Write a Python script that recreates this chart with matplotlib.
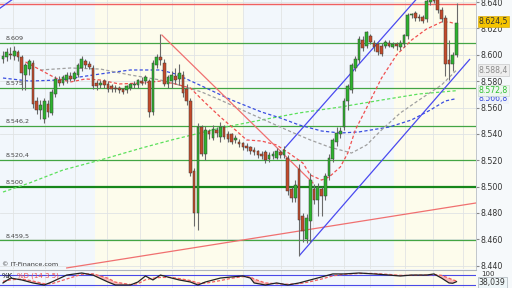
import matplotlib
matplotlib.use('Agg')
import matplotlib.pyplot as plt

# ---- candles (index level), one per bar ----
opens = [8597, 8598, 8601, 8599, 8602, 8598, 8585, 8589, 8594, 8565,
         8558, 8551, 8563, 8556, 8570, 8581, 8579, 8581, 8584, 8582,
         8585, 8590, 8595, 8593, 8590, 8579, 8577, 8580, 8578, 8576,
         8575, 8575, 8574, 8573, 8575, 8577, 8577, 8580, 8580, 8580,
         8557, 8592, 8598, 8594, 8578, 8580, 8584, 8582, 8585, 8574,
         8565, 8512, 8480, 8545, 8525, 8542, 8537, 8543, 8538, 8545,
         8540, 8540, 8535, 8534, 8533, 8531, 8530, 8528, 8527, 8525,
         8526, 8521, 8523, 8522, 8526, 8524, 8522, 8498, 8491, 8513,
         8478, 8460, 8474, 8498, 8490, 8498, 8493, 8508, 8521, 8534,
         8540, 8545, 8565, 8573, 8590, 8596, 8611, 8607, 8614, 8609,
         8608, 8607, 8607, 8609, 8606, 8608, 8606, 8608, 8614, 8630,
         8632, 8629, 8629, 8627, 8640, 8645, 8642, 8634, 8628, 8596,
         8593, 8600]
highs = [8603, 8605, 8606, 8607, 8604, 8600, 8594, 8597, 8596, 8568,
         8566, 8567, 8566, 8574, 8584, 8584, 8585, 8587, 8587, 8588,
         8594, 8599, 8597, 8595, 8592, 8581, 8581, 8582, 8580, 8578,
         8577, 8576, 8575, 8577, 8579, 8580, 8582, 8583, 8585, 8582,
         8596, 8601, 8616, 8597, 8585, 8588, 8590, 8593, 8588, 8578,
         8567, 8514, 8548, 8547, 8546, 8544, 8547, 8545, 8549, 8547,
         8542, 8541, 8539, 8536, 8534, 8533, 8531, 8530, 8528, 8527,
         8528, 8526, 8527, 8529, 8528, 8531, 8524, 8500, 8505, 8517,
         8480, 8479, 8510, 8502, 8503, 8500, 8510, 8525, 8537, 8545,
         8545, 8567, 8578, 8594, 8599, 8614, 8614, 8618, 8616, 8611,
         8610, 8609, 8611, 8611, 8610, 8610, 8611, 8616, 8632, 8632,
         8633, 8631, 8630, 8643, 8645, 8646, 8643, 8636, 8630, 8611,
         8602, 8639]
lows = [8594, 8595, 8597, 8596, 8595, 8573, 8573, 8585, 8560, 8555,
        8551, 8548, 8553, 8554, 8568, 8576, 8577, 8579, 8580, 8580,
        8583, 8588, 8590, 8589, 8574, 8573, 8575, 8575, 8572, 8572,
        8572, 8571, 8570, 8571, 8573, 8575, 8575, 8577, 8578, 8553,
        8554, 8590, 8592, 8576, 8575, 8575, 8578, 8577, 8568, 8562,
        8508, 8470, 8467, 8523, 8520, 8536, 8535, 8538, 8534, 8536,
        8534, 8532, 8533, 8530, 8528, 8527, 8525, 8524, 8522, 8521,
        8518, 8519, 8521, 8521, 8522, 8522, 8494, 8488, 8488, 8447,
        8458, 8457, 8458, 8487, 8478, 8478, 8490, 8505, 8519, 8531,
        8537, 8543, 8558, 8571, 8588, 8594, 8603, 8605, 8608, 8603,
        8600, 8599, 8605, 8606, 8605, 8604, 8604, 8606, 8612, 8628,
        8626, 8626, 8624, 8625, 8638, 8639, 8632, 8625, 8584, 8581,
        8588, 8598]
closes = [8599, 8602, 8600, 8603, 8598, 8586, 8592, 8595, 8563, 8558,
          8562, 8565, 8557, 8572, 8582, 8579, 8583, 8585, 8582, 8586,
          8592, 8597, 8592, 8591, 8576, 8576, 8579, 8577, 8574, 8574,
          8574, 8573, 8572, 8576, 8578, 8578, 8581, 8579, 8583, 8557,
          8594, 8598, 8596, 8578, 8583, 8585, 8581, 8586, 8571, 8565,
          8510, 8480, 8545, 8525, 8543, 8540, 8544, 8541, 8545, 8538,
          8536, 8534, 8537, 8532, 8530, 8529, 8527, 8526, 8524, 8523,
          8520, 8524, 8525, 8527, 8524, 8528, 8497, 8491, 8501, 8475,
          8466, 8476, 8505, 8490, 8500, 8493, 8508, 8522, 8535, 8541,
          8542, 8565, 8576, 8592, 8597, 8612, 8605, 8617, 8610, 8606,
          8602, 8601, 8610, 8607, 8608, 8607, 8609, 8615, 8630, 8631,
          8628, 8628, 8626, 8641, 8642, 8641, 8634, 8627, 8593, 8593,
          8600, 8624.5]

# ---- moving averages, read at sample bars ----
ma_red_idx = [6, 10, 14, 18, 22, 26, 31, 37, 42, 46, 50, 54, 58, 62, 65, 69, 73,
              77, 80, 82, 85, 87, 90, 92, 94, 97, 101, 105, 109, 113, 117, 119, 121]
ma_red = [8594.6, 8588.5, 8582.4, 8579.4, 8581.7, 8580.9, 8577.9, 8578.6, 8580.1,
          8577.9, 8574.8, 8563.5, 8552.8, 8543.0, 8535.4, 8534.6, 8531.6, 8524.0,
          8517.9, 8508.8, 8505.0, 8507.3, 8514.9, 8525.5, 8543.0, 8559.7, 8582.4,
          8599.9, 8611.2, 8619.6, 8624.9, 8624.9, 8623.4]
ma_gray_idx = [10, 18, 26, 34, 42, 46, 53, 58, 65, 71, 77, 82, 87, 93, 97, 101,
               106, 111, 117, 121]
ma_gray = [8588.5, 8590.0, 8589.2, 8584.7, 8580.9, 8577.9, 8571.8, 8565.7, 8556.6,
           8549.0, 8541.4, 8535.4, 8530.1, 8525.5, 8531.6, 8543.0, 8555.9, 8565.7,
           8577.1, 8588.4]
ma_blue_idx = [0, 7, 15, 26, 34, 42, 46, 53, 61, 69, 74, 79, 85, 90, 95, 103,
               109, 114, 118, 121]
ma_blue = [8582.4, 8580.1, 8580.9, 8585.5, 8588.5, 8588.5, 8585.5, 8576.4, 8565.7,
           8556.6, 8552.1, 8546.8, 8542.2, 8540.7, 8541.5, 8545.2, 8550.6, 8558.1,
           8565.0, 8566.8]
ma_green_idx = [0, 7, 16, 26, 37, 45, 58, 69, 79, 90, 101, 111, 121]
ma_green = [8495.9, 8502.7, 8512.6, 8520.2, 8529.3, 8535.4, 8544.5, 8550.6, 8555.9,
            8560.4, 8565.7, 8570.3, 8572.8]

# ---- drawn lines ----
levels = [8609, 8575, 8546.2, 8520.4, 8500, 8459.5]
level_labels = ['8.609', '8.575', '8.546,2', '8.520,4', '8.500', '8.459,5']
resistance = 8638.5
red_down_x, red_down_y = [42.4, 82.7], [8615.0, 8502.8]
red_up_x, red_up_y = [17, 126.2], [8438.3, 8487.6]
chan_low_x, chan_low_y = [79.2, 124.5], [8448.1, 8596.5]
chan_up_x, chan_up_y = [75.2, 112], [8529.3, 8647.7]
old_line_x, old_line_y = [-1, 3], [8635.0, 8643.0]

# ---- stochastic (14 3 5) ----
stoch_idx = [0, 2, 5, 8, 11, 13, 17, 21, 24, 28, 30, 34, 36, 38, 40, 42, 45, 47,
             50, 52, 54, 58, 61, 64, 66, 67, 70, 73, 76, 79, 82, 85, 88, 91, 95,
             99, 103, 106, 109, 113, 115, 117, 119, 120, 121]
stoch_k = [30, 61, 49, 30, 17, 36, 80, 93, 80, 36, 17, 17, 36, 74, 49, 80, 61, 49,
           36, 17, 36, 61, 68, 74, 61, 30, 17, 30, 17, 30, 49, 68, 87, 87, 93,
           87, 80, 74, 80, 80, 87, 61, 30, 28, 38.039]
stoch_d = [40, 50, 55, 42, 25, 25, 55, 85, 88, 60, 35, 20, 25, 50, 60, 65, 65, 58,
           45, 30, 28, 45, 60, 70, 68, 55, 30, 25, 22, 25, 38, 55, 75, 85, 90,
           90, 84, 78, 78, 80, 83, 78, 60, 50, 42]

yticks = list(range(8440, 8641, 20))
bands = [(-0.8, 24.5, '#f2f7fc'), (24.5, 64, '#fdfcec'),
         (64, 104.3, '#f2f7fc'), (104.3, 126.2, '#fdfcec')]
vgrid = [2.7, 11.2, 19.2, 27.7, 36.5, 45.1, 50.9, 59.7, 64, 74.1, 82.7, 90.9,
         97.9, 107.2, 114.7, 122.7]


def eu(v, d):
    s = f'{v:,.{d}f}'
    return s.replace(',', 'X').replace('.', ',').replace('X', '.')


fig = plt.figure(figsize=(5.12, 2.88), dpi=100, facecolor='#f6f9fb')
ax = fig.add_axes([0, 19 / 288, 476 / 512, 269 / 288])
ax2 = fig.add_axes([0, 0, 476 / 512, 18 / 288])
xlim = (-0.8, 126.2)

for a in (ax, ax2):
    for x0, x1, c in bands:
        a.axvspan(x0, x1, color=c, lw=0, zorder=0)
    for v in vgrid:
        a.axvline(v, color='#e2e4e4', lw=0.6, zorder=0.5)
    a.set_xlim(*xlim)
    a.set_xticks([])
    for s in a.spines.values():
        s.set_visible(False)

# main panel
ax.set_ylim(8437.5, 8641.6)
for v in yticks:
    ax.axhline(v, color='#e0e3e5', lw=0.6, zorder=0.5)

for lv, lab in zip(levels, level_labels):
    strong = lv == 8500
    ax.axhline(lv, color='#16861a' if strong else '#43a543',
               lw=1.6 if strong else 0.9, zorder=2)
    ax.text(0.6, lv + 1.2, lab, fontsize=4.6, color='#444444', va='bottom',
            ha='left', zorder=6)
ax.axhline(resistance, color='#f06060', lw=1.0, zorder=2)

dash = dict(lw=0.9, dashes=(2.6, 1.8), zorder=3)
ax.plot(ma_green_idx, ma_green, color='#5ce05c', **dash)
ax.plot(ma_blue_idx, ma_blue, color='#3a4ee0', **dash)
ax.plot(ma_gray_idx, ma_gray, color='#a0a0a0', **dash)
ax.plot(ma_red_idx, ma_red, color='#f05050', **dash)

ax.plot(red_down_x, red_down_y, color='#f07070', lw=0.9, zorder=3)
ax.plot(red_up_x, red_up_y, color='#f07070', lw=0.9, zorder=3)
ax.plot(chan_low_x, chan_low_y, color='#4a4af0', lw=0.9, zorder=3)
ax.plot(chan_up_x, chan_up_y, color='#4a4af0', lw=0.9, zorder=3)
ax.plot(old_line_x, old_line_y, color='#4a4af0', lw=0.9, zorder=3)

idx = list(range(len(closes)))
ax.vlines(idx, lows, highs, color='#6a6a6a', lw=0.8, zorder=4)
bottoms = [min(o, c) for o, c in zip(opens, closes)]
heights = [max(abs(c - o), 0.6) for o, c in zip(opens, closes)]
colors = ['#2eb32e' if c >= o else '#c44a2a' for o, c in zip(opens, closes)]
ax.bar(idx, heights, bottom=bottoms, width=0.72, color=colors,
       edgecolor='#3a3a3a', linewidth=0.35, zorder=5)

ax.yaxis.tick_right()
ax.set_yticks(yticks)
ax.set_yticklabels([eu(v, 0) for v in yticks])
ax.tick_params(axis='y', labelsize=5.7, labelcolor='#333333', length=2,
               color='#888888', pad=1.5)
ax.spines['right'].set_visible(True)
ax.spines['right'].set_color('#b8bec4')
ax.spines['right'].set_linewidth(0.6)

tr = ax.get_yaxis_transform()
ax.text(1.006, ma_blue[-1], eu(ma_blue[-1], 1), transform=tr, fontsize=5.6,
        color='#3a4ee0', va='center', ha='left', zorder=7,
        bbox=dict(boxstyle='square,pad=0.15', fc='#eef2f8', ec='none'))
ax.text(1.006, ma_green[-1], eu(ma_green[-1], 1), transform=tr, fontsize=5.6,
        color='#2fc02f', va='center', ha='left', zorder=8,
        bbox=dict(boxstyle='square,pad=0.15', fc='#eef6f0', ec='#c8d8c8', lw=0.4))
ax.text(1.006, ma_gray[-1], eu(ma_gray[-1], 1), transform=tr, fontsize=5.6,
        color='#8a8a8a', va='center', ha='left', zorder=8,
        bbox=dict(boxstyle='square,pad=0.15', fc='#eeeeee', ec='#c0c0c0', lw=0.4))
ax.text(1.006, closes[-1] + 0.5, eu(closes[-1], 1), transform=tr, fontsize=5.6,
        color='#333333', va='center', ha='left', zorder=8,
        bbox=dict(boxstyle='square,pad=0.12', fc='#f5c400', ec='#d0a000', lw=0.4))

ax.text(0.005, 0.008, '\u00a9 IT-Finance.com', transform=ax.transAxes,
        fontsize=4.6, color='#333333', va='bottom', ha='left', zorder=7)

# stochastic panel
ax2.set_ylim(-2, 112)
ax2.spines['top'].set_visible(True)
ax2.spines['top'].set_color('#b0b6bc')
ax2.spines['top'].set_linewidth(0.8)
ax2.axhline(80, color='#4a4ae8', lw=0.8, zorder=2)
ax2.axhline(20, color='#4a4ae8', lw=0.8, zorder=2)
ax2.fill_between(stoch_idx, stoch_k, stoch_d,
                 where=[d > k for k, d in zip(stoch_k, stoch_d)],
                 color='#f8b8b8', lw=0, zorder=2.5, interpolate=True)
ax2.plot(stoch_idx, stoch_d, color='#f06060', lw=0.9, dashes=(2.5, 1.5), zorder=3)
ax2.plot(stoch_idx, stoch_k, color='#222222', lw=0.9, zorder=4)
ax2.set_yticks([])
ax2.text(0.004, 0.66, '%K', transform=ax2.transAxes, fontsize=5,
         color='#111111', va='center', ha='left', zorder=6)
ax2.text(0.036, 0.66, '%D (14 3 5)', transform=ax2.transAxes, fontsize=5,
         color='#f05050', va='center', ha='left', zorder=6)
tr2 = ax2.get_yaxis_transform()
ax2.text(1.012, 88, '100', transform=tr2, fontsize=5, color='#333333',
         va='center', ha='left', zorder=5)
ax2.text(1.006, stoch_k[-1] - 8, eu(stoch_k[-1], 3), transform=tr2, fontsize=5.6,
         color='#333333', va='center', ha='left', zorder=7,
         bbox=dict(boxstyle='square,pad=0.15', fc='#eef6f8', ec='#9aa4aa', lw=0.4))

fig.savefig('out.png', dpi=100, facecolor=fig.get_facecolor())
